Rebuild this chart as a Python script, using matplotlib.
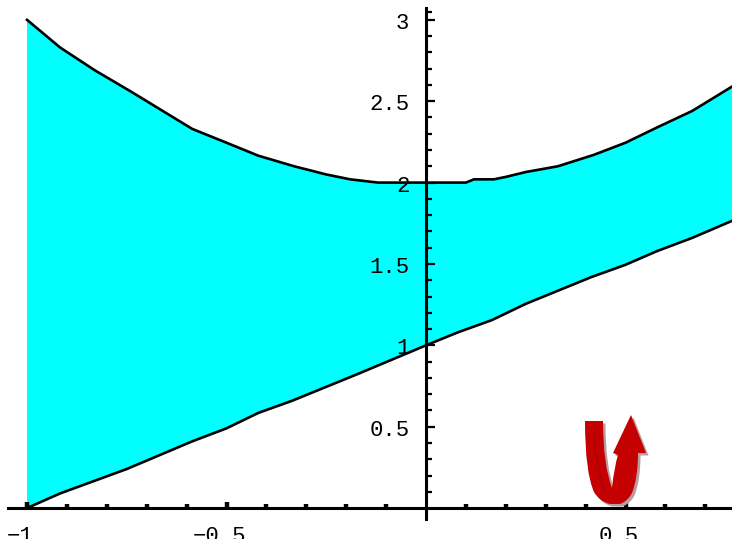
import numpy as np
import matplotlib
matplotlib.use("Agg")
import matplotlib.pyplot as plt
from matplotlib.patches import PathPatch
from matplotlib.path import Path
from matplotlib.ticker import FixedLocator, FixedFormatter
from matplotlib.transforms import IdentityTransform, ScaledTranslation

# Werte
x_upper = [-1, -0.917, -0.83, -0.74, -0.586, -0.5, -0.42, -0.33, -0.25, -0.19, -0.12,
           0.1, 0.12, 0.17, 0.2, 0.25, 0.33, 0.42, 0.5, 0.58, 0.667, 0.767]
y_upper = [3, 2.83, 2.69, 2.56, 2.33, 2.245, 2.165, 2.1, 2.05, 2.02, 2.0,
           2.0, 2.02, 2.02, 2.035, 2.065, 2.1, 2.17, 2.245, 2.34, 2.44, 2.59]
x_lower = [-1, -0.917, -0.75, -0.586, -0.5, -0.42, -0.335, -0.25, -0.17, 0,
           0.08, 0.165, 0.25, 0.33, 0.415, 0.5, 0.58, 0.667, 0.767]
y_lower = [0, 0.09, 0.24, 0.41, 0.49, 0.585, 0.66, 0.745, 0.825, 1,
           1.08, 1.155, 1.255, 1.335, 1.42, 1.495, 1.58, 1.66, 1.765]

x_ticks = [-1, -0.5, 0.5]
x_labels = ["\u22121", "\u22120.5", "0.5"]
y_ticks = [0.5, 1, 1.5, 2, 2.5, 3]
y_labels = ["0.5", "1", "1.5", "2", "2.5", "3"]

plt.rcParams["font.family"] = ["Liberation Mono", "DejaVu Sans Mono"]

fig = plt.figure(figsize=(7.32, 5.39), dpi=100)
ax = fig.add_axes([0, 0, 1, 1])
ax.set_xlim(-1.0677, 0.7669)
ax.set_ylim(-0.19, 3.122)
ax.patch.set_visible(False)

# Band zwischen den Kurven
xs = np.array(x_upper + x_lower[::-1])
ys = np.array(y_upper + y_lower[::-1])
ax.fill(xs, ys, color="#00ffff", lw=0, zorder=1)
ax.plot(x_upper, y_upper, color="black", lw=1.9, zorder=2)
ax.plot(x_lower, y_lower, color="black", lw=1.9, zorder=2)

# Achsen
for s in ["top", "right"]:
    ax.spines[s].set_visible(False)
ax.spines["left"].set_position(("data", 0))
ax.spines["bottom"].set_position(("data", 0))
ax.spines["left"].set_bounds(-0.07, 3.07)
ax.spines["bottom"].set_bounds(-1.048, 0.7669)
ax.spines["left"].set_linewidth(2.2)
ax.spines["bottom"].set_linewidth(2.2)
ax.spines["left"].set_zorder(3)
ax.spines["bottom"].set_zorder(3)

ax.xaxis.set_major_locator(FixedLocator(x_ticks))
ax.xaxis.set_major_formatter(FixedFormatter(x_labels))
ax.yaxis.set_major_locator(FixedLocator(y_ticks))
ax.yaxis.set_major_formatter(FixedFormatter(y_labels))
ax.xaxis.set_minor_locator(FixedLocator([-0.9, -0.8, -0.7, -0.6, -0.4, -0.3, -0.2, -0.1,
                                         0.1, 0.2, 0.3, 0.4, 0.6, 0.7]))
ax.yaxis.set_minor_locator(FixedLocator([0.1, 0.2, 0.3, 0.4, 0.6, 0.7, 0.8, 0.9,
                                         1.1, 1.2, 1.3, 1.4, 1.6, 1.7, 1.8, 1.9,
                                         2.1, 2.2, 2.3, 2.4, 2.6, 2.7, 2.8, 2.9, 3.05]))
ax.tick_params(axis="x", which="major", direction="in", length=4, width=3.2, pad=13, labelsize=16)
ax.tick_params(axis="x", which="minor", direction="in", length=3, width=3.2)
ax.tick_params(axis="y", which="major", direction="in", length=6.5, width=1.6, pad=12, labelsize=16)
ax.tick_params(axis="y", which="minor", direction="in", length=4.5, width=1.6)

shift = ScaledTranslation(-7 / 100, 0, fig.dpi_scale_trans)
for lab in ax.get_xticklabels():
    lab.set_transform(lab.get_transform() + shift)
shift_y = ScaledTranslation(0, -1 / 100, fig.dpi_scale_trans)
for lab in ax.get_yticklabels():
    lab.set_transform(lab.get_transform() + shift_y)


# Pfeil in Pixelkoordinaten des Bildes
def px(x, y):
    return (x, 539 - y)


arrow_pts = [px(585, 421), px(603, 421), px(603, 465), px(612, 488), px(614, 468), px(618, 455),
             px(613, 453), px(631, 415), px(646, 453), px(638, 453), px(638, 478), px(632, 493),
             px(628, 501), px(620, 504), px(610, 504), px(600, 502), px(594, 492),
             px(585, 472), px(585, 421), px(585, 421)]
C3 = Path.CURVE3
arrow_codes = [Path.MOVETO, Path.LINETO, C3, C3, C3, C3, Path.LINETO, Path.LINETO, Path.LINETO, Path.LINETO,
               C3, C3, C3, C3, Path.LINETO, C3, C3, C3, C3, Path.CLOSEPOLY]
pixel = IdentityTransform()
shadow_pts = [(a + 2.5, b - 2.5) for a, b in arrow_pts]
ax.add_patch(PathPatch(Path(shadow_pts, arrow_codes), fc="#b89ca0", ec="none", transform=pixel, zorder=4))
ax.add_patch(PathPatch(Path(arrow_pts, arrow_codes), fc="#c40000", ec="none", transform=pixel, zorder=5))
stripe = Path([px(594, 430), px(595, 465), px(605, 492)], [Path.MOVETO, C3, C3])
ax.add_patch(PathPatch(stripe, fc="none", ec="#a80606", lw=1.1, transform=pixel, zorder=6))

fig.savefig("out.png", dpi=100)
